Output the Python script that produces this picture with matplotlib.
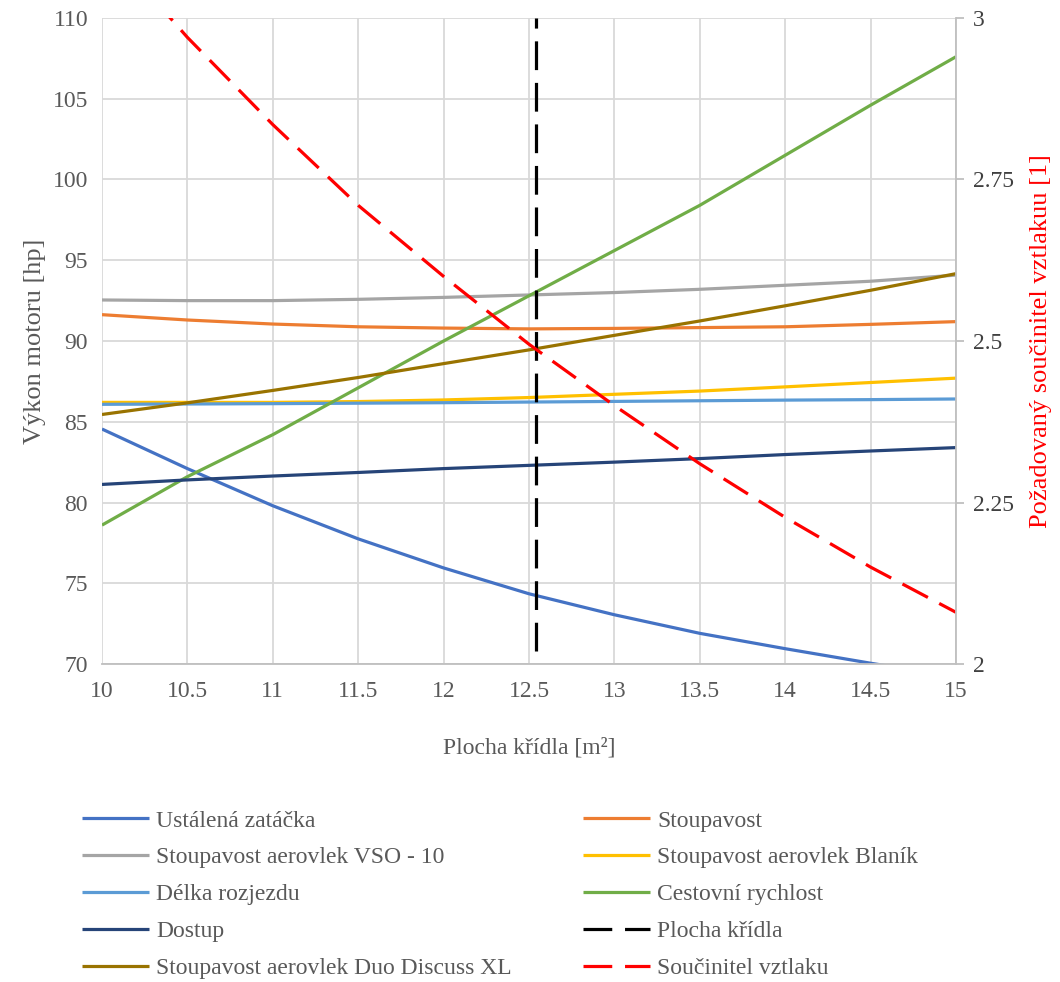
import matplotlib.pyplot as plt

plt.rcParams['font.family'] = ['Liberation Serif', 'DejaVu Serif']

# plocha kridla [m2]
plocha = [10, 10.5, 11, 11.5, 12, 12.5, 13, 13.5, 14, 14.5, 15]

# vykon motoru [hp]
zatacka = [84.55, 82.1, 79.8, 77.75, 75.95, 74.35, 73.05, 71.9, 70.95, 70.05, 69.2]
stoupavost = [91.63, 91.3, 91.05, 90.88, 90.8, 90.75, 90.78, 90.83, 90.88, 91.03, 91.2]
vso10 = [92.54, 92.5, 92.5, 92.58, 92.7, 92.85, 93.0, 93.2, 93.45, 93.7, 94.08]
blanik = [86.2, 86.2, 86.2, 86.25, 86.35, 86.5, 86.7, 86.9, 87.16, 87.43, 87.7]
rozjezd = [86.08, 86.1, 86.12, 86.15, 86.18, 86.22, 86.26, 86.3, 86.34, 86.37, 86.41]
cestovni = [78.6, 81.6, 84.2, 87.1, 90.0, 92.8, 95.6, 98.4, 101.5, 104.6, 107.6]
dostup = [81.12, 81.4, 81.64, 81.86, 82.1, 82.3, 82.5, 82.72, 82.97, 83.19, 83.4]
duo = [85.45, 86.17, 86.94, 87.74, 88.6, 89.45, 90.35, 91.24, 92.18, 93.14, 94.17]

# soucinitel vztlaku [1]
cl = [3.12, 2.97, 2.835, 2.71, 2.6, 2.495, 2.4, 2.31, 2.227, 2.15, 2.08]

# zvolena plocha kridla
s_navrh = 12.54
s_navrh_cl = [2.02, 3.0]

serie = [
    ('Ustálená zatáčka', zatacka, '#4472C4'),
    ('Stoupavost', stoupavost, '#ED7D31'),
    ('Stoupavost aerovlek VSO - 10', vso10, '#A5A5A5'),
    ('Stoupavost aerovlek Blaník', blanik, '#FFC000'),
    ('Délka rozjezdu', rozjezd, '#5B9BD5'),
    ('Cestovní rychlost', cestovni, '#70AD47'),
    ('Dostup', dostup, '#264478'),
    ('Stoupavost aerovlek Duo Discuss XL', duo, '#997300'),
]

fs = 17
lw = 2.3
dash = (0, (9, 4))

fig = plt.figure(figsize=(10.6, 9.82), dpi=100)
ax = fig.add_axes([0.0962, 0.3238, 0.8057, 0.6579])

handles = []
for name, vals, col in serie:
    h, = ax.plot(plocha, vals, color=col, lw=lw, label=name, solid_capstyle='butt')
    handles.append(h)

ax.set_xlim(10, 15)
ax.set_ylim(70, 110)
ax.set_xticks([10 + 0.5 * i for i in range(11)])
ax.set_xticklabels(['10', '10.5', '11', '11.5', '12', '12.5', '13', '13.5', '14', '14.5', '15'])
ax.set_yticks(range(70, 111, 5))
ax.grid(True, color='#D9D9D9', lw=1.3)
ax.set_axisbelow(True)
for s in ['top', 'left', 'right']:
    ax.spines[s].set_visible(False)
ax.spines['bottom'].set_color('#BFBFBF')
ax.spines['bottom'].set_linewidth(1.3)
ax.tick_params(axis='both', length=0, labelsize=fs, labelcolor='#595959', pad=10)
ax.tick_params(axis='x', pad=12)
ax.set_xlabel('Plocha křídla [m²]', fontsize=fs, color='#595959', labelpad=26)
ax.set_ylabel('Výkon motoru [hp]', fontsize=19, color='#595959', labelpad=5)

ax2 = ax.twinx()
ax2.set_ylim(2, 3)
ax2.set_yticks([2, 2.25, 2.5, 2.75, 3])
ax2.set_yticklabels(['2', '2.25', '2.5', '2.75', '3'])
for s in ['top', 'left', 'bottom']:
    ax2.spines[s].set_visible(False)
ax2.spines['right'].set_color('#BFBFBF')
ax2.spines['right'].set_linewidth(1.3)
ax2.tick_params(axis='y', length=6, width=1.3, color='#BFBFBF', labelsize=fs, labelcolor='#404040', pad=6)
ax2.set_ylabel('Požadovaný součinitel vztlakuu [1]', fontsize=19, color='#FF0000', labelpad=12)

hb, = ax2.plot([s_navrh, s_navrh], s_navrh_cl, color='black', lw=lw, linestyle=dash, label='Plocha křídla')
hr, = ax2.plot(plocha, cl, color='#FF0000', lw=lw, linestyle=dash, label='Součinitel vztlaku')

kw = dict(frameon=False, fontsize=fs, handlelength=2.85, handletextpad=0.3,
          labelspacing=0.65, borderaxespad=0, borderpad=0, labelcolor='#595959')
fig.legend(handles=[handles[0], handles[2], handles[4], handles[6], handles[7]],
           loc='upper left', bbox_to_anchor=(82 / 1060, 1 - 810 / 982), **kw)
fig.legend(handles=[handles[1], handles[3], handles[5], hb, hr],
           loc='upper left', bbox_to_anchor=(583 / 1060, 1 - 810 / 982), **kw)

fig.savefig('out.png', dpi=100)
